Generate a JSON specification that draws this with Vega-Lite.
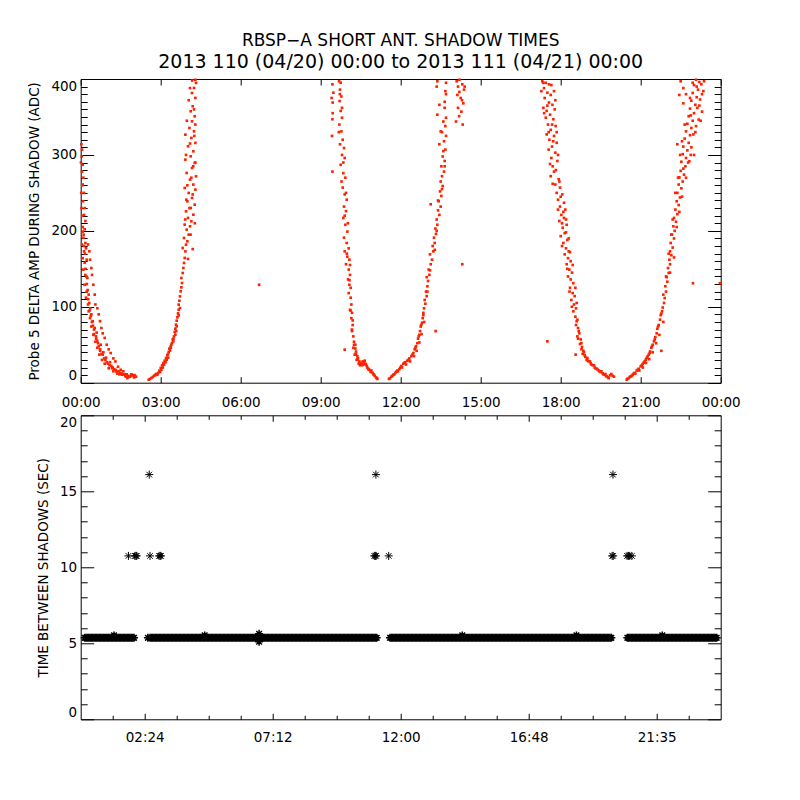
{
  "$schema": "https://vega.github.io/schema/vega-lite/v6.json",
  "background": "white",
  "padding": {"left": 26.7, "top": 31, "right": 10, "bottom": 10},
  "config": {
    "font": "DejaVu Sans",
    "view": {"stroke": "black", "strokeWidth": 1, "fill": null},
    "axis": {
      "domain": false,
      "grid": false,
      "labelFont": "DejaVu Sans",
      "labelFontSize": 13.5,
      "labelColor": "black",
      "labelOverlap": false,
      "tickColor": "black",
      "tickWidth": 1,
      "titleFont": "DejaVu Sans",
      "titleFontSize": 13.5,
      "titleFontWeight": "normal",
      "titleColor": "black"
    }
  },
  "datasets": {
    "amp": [
      {"h":0.025,"a":314},{"h":0.05,"a":307},{"h":0.04,"a":298},{"h":0.075,"a":287},{"h":0.05,"a":278},{"h":0.1,"a":270},{"h":0.075,"a":261},{"h":0.125,"a":250},{"h":0.09,"a":239},{"h":0.15,"a":230},
      {"h":0.125,"a":221},{"h":0.175,"a":213},{"h":0.15,"a":202},{"h":0.075,"a":199},{"h":0.1,"a":191},{"h":0.175,"a":184},{"h":0.05,"a":182},{"h":0.125,"a":173},{"h":0.2,"a":177},{"h":0.075,"a":164},
      {"h":0.15,"a":158},{"h":0.225,"a":162},{"h":0.1,"a":149},{"h":0.175,"a":142},{"h":0.25,"a":138},{"h":0.15,"a":129},{"h":0.225,"a":120},{"h":0.3,"a":116},{"h":0.2,"a":112},{"h":0.275,"a":103},
      {"h":0.36,"a":98},{"h":0.3,"a":94},{"h":0.4,"a":90},{"h":0.35,"a":85},{"h":0.45,"a":81},{"h":0.4,"a":74},{"h":0.5,"a":70},{"h":0.475,"a":63},{"h":0.575,"a":61},{"h":0.55,"a":54},
      {"h":0.65,"a":52},{"h":0.625,"a":46},{"h":0.725,"a":44},{"h":0.7,"a":37},{"h":0.825,"a":37},{"h":0.8,"a":30},{"h":0.925,"a":30},{"h":0.9,"a":25},{"h":1.025,"a":25},{"h":1.05,"a":19},
      {"h":1.175,"a":19},{"h":1.225,"a":15},{"h":1.325,"a":16},{"h":1.375,"a":12},{"h":1.475,"a":13},{"h":1.55,"a":10.5},{"h":1.675,"a":9},{"h":1.8,"a":7.5},{"h":1.9,"a":11},{"h":1.99,"a":9},
      {"h":2.075,"a":8},{"h":0.275,"a":182},{"h":0.325,"a":173},{"h":0.35,"a":162},{"h":0.4,"a":151},{"h":0.425,"a":142},{"h":0.475,"a":129},{"h":0.525,"a":116},{"h":0.55,"a":103},{"h":0.625,"a":98},
      {"h":0.675,"a":90},{"h":0.725,"a":81},{"h":0.775,"a":72},{"h":0.825,"a":65},{"h":0.9,"a":59},{"h":0.975,"a":50},{"h":1.05,"a":44},{"h":1.125,"a":39},{"h":1.225,"a":32},{"h":1.3,"a":28},
      {"h":1.4,"a":21},{"h":1.5,"a":17},{"h":1.6,"a":15},{"h":1.725,"a":11},{"h":1.6,"a":11},{"h":1.7,"a":8},{"h":1.75,"a":6},{"h":1.85,"a":8},{"h":1.95,"a":10},{"h":2.0,"a":7},
      {"h":1.45,"a":11},{"h":1.35,"a":14},{"h":1.25,"a":18},{"h":1.15,"a":22},{"h":1.1,"a":27},{"h":0.95,"a":33},{"h":0.85,"a":40},{"h":0.75,"a":50},{"h":0.6,"a":66},{"h":0.525,"a":72},
      {"h":0.02,"a":250},{"h":0.03,"a":230},{"h":0.06,"a":220},{"h":0.08,"a":205},{"h":0.11,"a":195},{"h":0.13,"a":180},{"h":0.16,"a":170},{"h":0.18,"a":150},{"h":0.21,"a":140},{"h":0.23,"a":130},
      {"h":0.26,"a":122},{"h":0.28,"a":110},{"h":0.32,"a":105},{"h":0.33,"a":95},{"h":0.38,"a":88},{"h":0.42,"a":80},{"h":0.46,"a":75},{"h":0.5,"a":64},{"h":0.58,"a":58},{"h":0.62,"a":55},
      {"h":0.68,"a":48},{"h":0.73,"a":42},{"h":0.78,"a":38},{"h":0.88,"a":32},{"h":0.98,"a":27},{"h":1.08,"a":23},{"h":1.2,"a":20},{"h":1.3,"a":17},{"h":1.42,"a":15},{"h":1.52,"a":12},
      {"h":1.65,"a":11},{"h":1.78,"a":9},{"h":1.88,"a":9},{"h":2.02,"a":10},{"h":0.06,"a":260},{"h":0.01,"a":290},
      {"h":2.55,"a":4},{"h":2.65,"a":6.1},{"h":2.75,"a":9.2},{"h":2.825,"a":11.4},{"h":2.9,"a":12.7},{"h":2.95,"a":15.8},{"h":3.0,"a":19.3},{"h":3.05,"a":22.8},{"h":3.1,"a":25.9},{"h":3.15,"a":29},
      {"h":3.2,"a":32.5},{"h":3.25,"a":36},{"h":3.3,"a":40.4},{"h":3.325,"a":44.8},{"h":3.375,"a":47.9},{"h":3.425,"a":52.3},{"h":3.45,"a":56.7},{"h":3.5,"a":61},{"h":3.525,"a":66.8},{"h":3.55,"a":71.1},
      {"h":3.575,"a":76.4},{"h":3.6,"a":81.7},{"h":3.625,"a":86.1},{"h":3.65,"a":91.3},{"h":3.675,"a":96.2},{"h":3.675,"a":102.8},{"h":3.7,"a":108},{"h":3.725,"a":113.7},{"h":3.75,"a":120.3},{"h":3.775,"a":125.6},
      {"h":3.8,"a":131.3},{"h":3.775,"a":137.9},{"h":3.825,"a":144.5},{"h":3.85,"a":151.1},{"h":3.875,"a":157.7},{"h":3.9,"a":164.3},{"h":3.925,"a":173},{"h":3.825,"a":177.4},{"h":3.95,"a":181.8},{"h":4.0,"a":186.2},
      {"h":3.875,"a":190.6},{"h":4.05,"a":195},{"h":3.975,"a":201.6},{"h":4.1,"a":206},{"h":3.9,"a":208.2},{"h":4.15,"a":212.6},{"h":4.025,"a":217},{"h":4.225,"a":221.3},{"h":3.95,"a":225.7},{"h":4.125,"a":230.1},
      {"h":4.275,"a":234.5},{"h":4.0,"a":238.9},{"h":4.175,"a":243.3},{"h":4.05,"a":249.9},{"h":4.3,"a":254.3},{"h":3.9,"a":256.5},{"h":4.225,"a":260.9},{"h":4.1,"a":267.5},{"h":4.325,"a":271.8},{"h":3.975,"a":276.2},
      {"h":4.175,"a":282.8},{"h":4.275,"a":289.4},{"h":3.925,"a":293.8},{"h":4.125,"a":298.2},{"h":4.225,"a":304.8},{"h":4.025,"a":311.4},{"h":4.3,"a":315.8},{"h":4.15,"a":322.4},{"h":3.925,"a":326.7},{"h":4.25,"a":331.1},
      {"h":4.075,"a":335.5},{"h":4.175,"a":344.3},{"h":4.275,"a":350.9},{"h":4.125,"a":357.5},{"h":4.2,"a":364.1},{"h":4.3,"a":375.1},{"h":4.175,"a":381.6},{"h":4.25,"a":388.2},{"h":4.325,"a":394.8},
      {"h":2.875,"a":10.5},{"h":3.025,"a":17.1},{"h":3.125,"a":23.7},{"h":3.225,"a":30.3},{"h":3.275,"a":37.8},{"h":3.35,"a":42.2},{"h":3.4,"a":50.1},{"h":3.475,"a":54.5},{"h":3.55,"a":63.2},{"h":3.6,"a":74.2},
      {"h":3.675,"a":88.7},{"h":3.725,"a":98.4},{"h":6.69,"a":129},
      {"h":4.0,"a":260},{"h":4.2,"a":248},{"h":4.3,"a":290},{"h":3.95,"a":300},{"h":4.1,"a":315},{"h":4.25,"a":360},{"h":4.05,"a":372},{"h":4.3,"a":340},{"h":3.98,"a":345},{"h":4.15,"a":270},
      {"h":4.22,"a":285},{"h":4.08,"a":230},{"h":4.28,"a":210},{"h":3.92,"a":215},{"h":4.12,"a":195},{"h":4.2,"a":176},{"h":4.02,"a":163},{"h":3.96,"a":241},{"h":4.26,"a":325},{"h":4.18,"a":398},
      {"h":4.3,"a":399},{"h":4.1,"a":388},{"h":2.6,"a":5},{"h":2.7,"a":7.5},{"h":2.8,"a":10},{"h":2.98,"a":14},{"h":3.08,"a":20},{"h":3.18,"a":27},{"h":3.28,"a":33},{"h":3.38,"a":46},
      {"h":3.48,"a":58},{"h":3.58,"a":68},
      {"h":9.44,"a":393},{"h":9.475,"a":382},{"h":9.41,"a":375},{"h":9.45,"a":369},{"h":9.69,"a":397},{"h":9.75,"a":395},{"h":9.725,"a":386},{"h":9.775,"a":377},{"h":9.71,"a":371},{"h":9.75,"a":358},
      {"h":9.8,"a":349},{"h":9.44,"a":347},{"h":9.425,"a":325},{"h":9.7,"a":340},{"h":9.775,"a":331},{"h":9.825,"a":320},{"h":9.725,"a":314},{"h":9.875,"a":309},{"h":9.8,"a":300},{"h":9.9,"a":296},
      {"h":9.75,"a":287},{"h":9.85,"a":276},{"h":9.44,"a":278},{"h":9.925,"a":270},{"h":9.825,"a":257},{"h":9.9,"a":248},{"h":9.975,"a":241},{"h":9.875,"a":232},{"h":9.95,"a":226},{"h":9.85,"a":217},
      {"h":9.925,"a":208},{"h":10.0,"a":199},{"h":9.875,"a":191},{"h":9.975,"a":184},{"h":10.05,"a":177},{"h":9.9,"a":173},{"h":10.0,"a":166},{"h":10.075,"a":162},{"h":9.95,"a":156},{"h":10.05,"a":149},
      {"h":10.1,"a":142},{"h":10.025,"a":136},{"h":10.075,"a":129},{"h":10.125,"a":125},{"h":10.05,"a":118},{"h":10.125,"a":112},{"h":10.15,"a":103},{"h":10.1,"a":96},{"h":10.175,"a":92},{"h":10.15,"a":85},
      {"h":10.2,"a":76},{"h":10.175,"a":68},{"h":10.225,"a":61},{"h":10.25,"a":54},{"h":10.3,"a":50},{"h":10.225,"a":46},{"h":10.325,"a":41},{"h":10.275,"a":37},{"h":10.375,"a":35},{"h":10.35,"a":30},
      {"h":10.45,"a":28},{"h":10.425,"a":25},{"h":10.5,"a":26},{"h":10.575,"a":28},{"h":10.65,"a":29},{"h":10.6,"a":24},{"h":10.7,"a":24},{"h":10.75,"a":20},{"h":10.825,"a":17},{"h":10.875,"a":15},
      {"h":10.95,"a":13},{"h":11.0,"a":10.5},{"h":11.075,"a":7},{"h":11.125,"a":5},{"h":9.9,"a":43.5},{"h":10.25,"a":50},{"h":10.3,"a":45},{"h":10.4,"a":32},{"h":10.475,"a":23},{"h":10.55,"a":23},
      {"h":10.625,"a":27},{"h":10.725,"a":22},{"h":10.8,"a":18},{"h":10.9,"a":16},{"h":11.025,"a":9},
      {"h":9.45,"a":355},{"h":9.72,"a":380},{"h":9.8,"a":362},{"h":9.68,"a":330},{"h":9.85,"a":290},{"h":9.78,"a":265},{"h":9.95,"a":250},{"h":9.9,"a":220},{"h":10.02,"a":210},{"h":9.98,"a":170},
      {"h":10.1,"a":155},{"h":10.08,"a":135},{"h":10.12,"a":95},{"h":10.2,"a":82},{"h":10.17,"a":70},{"h":10.32,"a":38},{"h":10.38,"a":31},{"h":10.52,"a":25},{"h":10.68,"a":25},{"h":10.78,"a":18},
      {"h":10.88,"a":14},{"h":10.98,"a":11},{"h":11.1,"a":6},
      {"h":11.56,"a":5},{"h":11.65,"a":8},{"h":11.725,"a":10.5},{"h":11.8,"a":13},{"h":11.875,"a":16},{"h":11.95,"a":18},{"h":12.025,"a":22},{"h":12.1,"a":25},{"h":12.175,"a":27},{"h":12.25,"a":29},
      {"h":12.325,"a":32},{"h":12.4,"a":35},{"h":12.475,"a":39},{"h":12.525,"a":44},{"h":12.575,"a":48},{"h":12.625,"a":52},{"h":12.65,"a":58},{"h":12.7,"a":63},{"h":12.725,"a":68},{"h":12.75,"a":74},
      {"h":12.8,"a":79},{"h":12.825,"a":85},{"h":12.85,"a":92},{"h":12.875,"a":98},{"h":12.925,"a":104},{"h":12.9,"a":109},{"h":12.975,"a":114},{"h":12.95,"a":120},{"h":13.0,"a":127},{"h":13.025,"a":134},
      {"h":12.975,"a":139},{"h":13.075,"a":142},{"h":13.05,"a":149},{"h":13.125,"a":156},{"h":13.175,"a":162},{"h":13.1,"a":169},{"h":13.225,"a":173},{"h":13.2,"a":180},{"h":13.275,"a":184},{"h":13.25,"a":191},
      {"h":13.325,"a":196},{"h":13.3,"a":203},{"h":13.375,"a":208},{"h":13.35,"a":215},{"h":13.45,"a":221},{"h":13.4,"a":227},{"h":13.5,"a":232},{"h":13.425,"a":239},{"h":13.525,"a":246},{"h":13.475,"a":252},
      {"h":13.575,"a":259},{"h":13.5,"a":265},{"h":13.55,"a":272},{"h":13.625,"a":278},{"h":13.525,"a":285},{"h":13.65,"a":292},{"h":13.575,"a":298},{"h":13.675,"a":307},{"h":13.45,"a":314},{"h":13.625,"a":318},
      {"h":13.7,"a":325},{"h":13.5,"a":331},{"h":13.675,"a":338},{"h":13.6,"a":344},{"h":13.7,"a":349},{"h":13.375,"a":353},{"h":13.65,"a":362},{"h":13.45,"a":366},{"h":13.675,"a":384},{"h":13.35,"a":390},
      {"h":13.7,"a":395},{"h":13.375,"a":397},{"h":14.1,"a":397},{"h":14.2,"a":399},{"h":14.31,"a":393},{"h":14.375,"a":386},{"h":14.125,"a":379},{"h":14.25,"a":375},{"h":14.35,"a":368},{"h":14.15,"a":362},
      {"h":14.275,"a":357},{"h":14.19,"a":351},{"h":14.325,"a":340},{"h":14.075,"a":344},{"h":14.4,"a":390},{"h":14.31,"a":156},{"h":13.125,"a":235},{"h":13.31,"a":68},
      {"h":11.69,"a":9},{"h":11.84,"a":14.5},{"h":11.99,"a":20},{"h":12.14,"a":26},{"h":12.29,"a":30},{"h":12.44,"a":37},{"h":12.55,"a":46},{"h":12.675,"a":61},{"h":12.775,"a":76},{"h":12.85,"a":89},
      {"h":13.55,"a":330},{"h":13.6,"a":305},{"h":13.65,"a":285},{"h":13.4,"a":240},{"h":13.55,"a":255},{"h":13.35,"a":200},{"h":13.28,"a":175},{"h":13.65,"a":370},{"h":13.7,"a":380},{"h":13.1,"a":148},
      {"h":13.0,"a":120},{"h":14.2,"a":383},{"h":14.3,"a":372},{"h":14.15,"a":390},{"h":11.6,"a":6},{"h":11.76,"a":11},{"h":11.9,"a":15},{"h":12.05,"a":20},{"h":12.2,"a":24},{"h":12.35,"a":28},
      {"h":12.5,"a":35},{"h":12.6,"a":42},{"h":12.7,"a":53},{"h":12.78,"a":64},{"h":12.88,"a":80},
      {"h":17.31,"a":397},{"h":17.44,"a":395},{"h":17.56,"a":393},{"h":17.375,"a":388},{"h":17.275,"a":384},{"h":17.5,"a":382},{"h":17.625,"a":379},{"h":17.4,"a":375},{"h":17.75,"a":384},{"h":17.56,"a":369},
      {"h":17.69,"a":366},{"h":17.35,"a":362},{"h":17.475,"a":358},{"h":17.775,"a":360},{"h":17.6,"a":353},{"h":17.44,"a":349},{"h":17.725,"a":347},{"h":17.525,"a":340},{"h":17.81,"a":338},{"h":17.625,"a":333},
      {"h":17.475,"a":327},{"h":17.75,"a":325},{"h":17.575,"a":320},{"h":17.85,"a":316},{"h":17.675,"a":311},{"h":17.55,"a":307},{"h":17.8,"a":303},{"h":17.65,"a":296},{"h":17.875,"a":292},{"h":17.7,"a":285},
      {"h":17.75,"a":278},{"h":17.625,"a":272},{"h":17.925,"a":268},{"h":17.8,"a":261},{"h":17.975,"a":257},{"h":17.85,"a":250},{"h":18.06,"a":248},{"h":17.9,"a":241},{"h":18.125,"a":237},{"h":17.975,"a":232},
      {"h":18.175,"a":228},{"h":18.025,"a":221},{"h":18.125,"a":217},{"h":17.95,"a":213},{"h":18.225,"a":208},{"h":18.075,"a":204},{"h":18.15,"a":197},{"h":18.0,"a":193},{"h":18.25,"a":188},{"h":18.1,"a":184},
      {"h":18.2,"a":177},{"h":18.3,"a":173},{"h":18.15,"a":169},{"h":18.275,"a":164},{"h":18.375,"a":160},{"h":18.225,"a":156},{"h":18.325,"a":149},{"h":18.425,"a":145},{"h":18.275,"a":140},{"h":18.375,"a":136},
      {"h":18.475,"a":131},{"h":18.35,"a":125},{"h":18.45,"a":118},{"h":18.525,"a":114},{"h":18.4,"a":109},{"h":18.5,"a":103},{"h":18.575,"a":98},{"h":18.475,"a":94},{"h":18.55,"a":87},{"h":18.625,"a":83},
      {"h":18.575,"a":76},{"h":18.65,"a":72},{"h":18.7,"a":65},{"h":18.625,"a":61},{"h":18.75,"a":57},{"h":18.725,"a":51},{"h":18.8,"a":47},{"h":18.85,"a":42},{"h":18.825,"a":38},{"h":18.925,"a":34},
      {"h":18.975,"a":30},{"h":19.05,"a":28},{"h":19.125,"a":25.5},{"h":19.2,"a":23},{"h":19.275,"a":20},{"h":19.35,"a":18.4},{"h":19.425,"a":16},{"h":19.5,"a":14},{"h":19.575,"a":12.3},{"h":19.65,"a":10.5},
      {"h":19.725,"a":8.3},{"h":19.775,"a":7},{"h":19.85,"a":9.7},{"h":19.9,"a":11.4},{"h":19.95,"a":9},{"h":20.0,"a":8},{"h":17.5,"a":54.5},{"h":18.56,"a":37},{"h":18.775,"a":52},{"h":18.875,"a":40},
      {"h":19.0,"a":32.5},{"h":19.1,"a":28},{"h":19.25,"a":23},{"h":19.375,"a":17.6},{"h":19.525,"a":15},{"h":19.675,"a":11.4},{"h":18.675,"a":68},{"h":18.6,"a":81},
      {"h":17.35,"a":395},{"h":17.65,"a":392},{"h":17.8,"a":372},{"h":17.5,"a":365},{"h":17.38,"a":355},{"h":17.68,"a":340},{"h":17.85,"a":330},{"h":17.55,"a":330},{"h":17.72,"a":318},{"h":17.9,"a":300},
      {"h":17.6,"a":288},{"h":17.82,"a":280},{"h":17.95,"a":265},{"h":17.7,"a":262},{"h":18.0,"a":245},{"h":17.9,"a":228},{"h":18.1,"a":225},{"h":18.2,"a":215},{"h":18.05,"a":210},{"h":18.3,"a":190},
      {"h":18.2,"a":198},{"h":18.05,"a":180},{"h":18.35,"a":172},{"h":18.25,"a":150},{"h":18.45,"a":155},{"h":18.33,"a":120},{"h":18.55,"a":125},{"h":18.42,"a":100},{"h":18.6,"a":105},{"h":18.65,"a":58},
      {"h":18.78,"a":44},{"h":18.9,"a":36},{"h":19.02,"a":29},{"h":19.15,"a":24},{"h":19.3,"a":19},{"h":19.45,"a":15},{"h":19.6,"a":11},{"h":19.7,"a":9},{"h":19.8,"a":6},
      {"h":20.475,"a":4},{"h":20.55,"a":6},{"h":20.625,"a":8.3},{"h":20.7,"a":10.5},{"h":20.775,"a":13},{"h":20.85,"a":16},{"h":20.925,"a":18.4},{"h":21.0,"a":21.5},{"h":21.075,"a":24.6},{"h":21.15,"a":28},
      {"h":21.225,"a":32.5},{"h":21.3,"a":37},{"h":21.35,"a":41},{"h":21.4,"a":46},{"h":21.45,"a":50},{"h":21.5,"a":54.5},{"h":21.55,"a":60},{"h":21.6,"a":65},{"h":21.625,"a":71},{"h":21.675,"a":76},
      {"h":21.725,"a":83},{"h":21.75,"a":89},{"h":21.8,"a":94},{"h":21.825,"a":99},{"h":21.875,"a":105},{"h":21.9,"a":111.5},{"h":21.85,"a":116},{"h":21.95,"a":120},{"h":21.925,"a":127},{"h":22.0,"a":133},
      {"h":21.975,"a":139},{"h":22.05,"a":144.5},{"h":22.025,"a":151},{"h":22.1,"a":156},{"h":22.075,"a":162},{"h":22.15,"a":168},{"h":22.1,"a":173},{"h":22.2,"a":178},{"h":22.125,"a":184},{"h":22.25,"a":190},
      {"h":22.175,"a":195},{"h":22.275,"a":200},{"h":22.225,"a":206},{"h":22.325,"a":212},{"h":22.25,"a":217},{"h":22.375,"a":222},{"h":22.3,"a":228},{"h":22.425,"a":234},{"h":22.35,"a":239},{"h":22.475,"a":244},
      {"h":22.375,"a":250},{"h":22.525,"a":256},{"h":22.425,"a":261},{"h":22.575,"a":265},{"h":22.45,"a":270.5},{"h":22.625,"a":274},{"h":22.5,"a":279},{"h":22.675,"a":285},{"h":22.525,"a":291},{"h":22.7,"a":296},
      {"h":22.575,"a":301},{"h":22.75,"a":306},{"h":22.6,"a":311},{"h":22.8,"a":316},{"h":22.65,"a":321.5},{"h":22.85,"a":326},{"h":22.7,"a":331},{"h":22.9,"a":335.5},{"h":22.75,"a":341},{"h":22.95,"a":345},
      {"h":22.8,"a":351},{"h":23.0,"a":355},{"h":22.85,"a":361},{"h":23.05,"a":366},{"h":22.9,"a":371.5},{"h":23.1,"a":376},{"h":22.95,"a":381.6},{"h":23.15,"a":386},{"h":23.0,"a":392},{"h":23.2,"a":396},
      {"h":23.075,"a":399},{"h":22.5,"a":397},{"h":22.6,"a":388},{"h":22.45,"a":379},{"h":23.275,"a":393},{"h":23.35,"a":384},{"h":23.225,"a":373},{"h":23.125,"a":362},{"h":23.3,"a":357},{"h":23.175,"a":346.5},
      {"h":23.075,"a":338},{"h":22.975,"a":327},{"h":22.825,"a":291.6},{"h":22.875,"a":300},{"h":22.7,"a":270},{"h":23.375,"a":397},{"h":22.375,"a":314},{"h":22.96,"a":131},{"h":21.775,"a":42},{"h":23.97,"a":131},
      {"h":20.59,"a":7.5},{"h":20.74,"a":12},{"h":20.89,"a":17},{"h":21.04,"a":22.8},{"h":21.11,"a":26.4},{"h":21.19,"a":30.3},{"h":21.26,"a":34.7},{"h":21.34,"a":39},{"h":21.425,"a":48},{"h":21.525,"a":57},
      {"h":21.65,"a":74},{"h":21.775,"a":91},
      {"h":22.3,"a":250},{"h":22.55,"a":245},{"h":22.6,"a":282},{"h":22.4,"a":270},{"h":22.78,"a":290},{"h":22.55,"a":318},{"h":22.9,"a":310},{"h":22.65,"a":340},{"h":22.88,"a":352},{"h":23.05,"a":330},
      {"h":23.2,"a":365},{"h":22.7,"a":380},{"h":22.95,"a":395},{"h":23.1,"a":390},{"h":23.3,"a":380},{"h":22.6,"a":368},{"h":22.85,"a":375},{"h":23.25,"a":345},{"h":22.48,"a":300},{"h":23.0,"a":300},
      {"h":22.2,"a":215},{"h":22.45,"a":225},{"h":22.15,"a":195},{"h":22.35,"a":205},{"h":22.05,"a":170},{"h":22.25,"a":165},{"h":21.95,"a":140},{"h":22.1,"a":145},{"h":20.5,"a":5},{"h":20.66,"a":9},
      {"h":20.8,"a":12},{"h":20.95,"a":16},{"h":21.08,"a":20},{"h":21.2,"a":26},{"h":21.32,"a":31},{"h":21.45,"a":40},{"h":21.58,"a":52},{"h":21.7,"a":63},{"h":21.85,"a":80}
    ],
    "gap": [
      {"t":0.15,"s":5.36},{"t":0.2,"s":5.36},{"t":0.25,"s":5.36},{"t":0.3,"s":5.36},{"t":0.35,"s":5.36},{"t":0.4,"s":5.36},{"t":0.45,"s":5.36},
      {"t":0.5,"s":5.36},{"t":0.55,"s":5.36},{"t":0.6,"s":5.36},{"t":0.65,"s":5.36},{"t":0.7,"s":5.36},{"t":0.75,"s":5.36},{"t":0.8,"s":5.36},{"t":0.85,"s":5.36},{"t":0.9,"s":5.36},{"t":0.95,"s":5.36},
      {"t":1,"s":5.36},{"t":1.05,"s":5.36},{"t":1.1,"s":5.36},{"t":1.15,"s":5.36},{"t":1.2,"s":5.36},{"t":1.25,"s":5.36},{"t":1.3,"s":5.36},{"t":1.35,"s":5.36},{"t":1.4,"s":5.36},{"t":1.45,"s":5.36},
      {"t":1.5,"s":5.36},{"t":1.55,"s":5.36},{"t":1.6,"s":5.36},{"t":1.65,"s":5.36},{"t":1.7,"s":5.36},{"t":1.75,"s":5.36},{"t":1.8,"s":5.36},{"t":1.85,"s":5.36},{"t":1.9,"s":5.36},{"t":1.95,"s":5.36},
      {"t":2,"s":5.36},
      {"t":2.6,"s":5.36},{"t":2.65,"s":5.36},{"t":2.7,"s":5.36},{"t":2.75,"s":5.36},{"t":2.8,"s":5.36},{"t":2.85,"s":5.36},{"t":2.9,"s":5.36},{"t":2.95,"s":5.36},{"t":3,"s":5.36},{"t":3.05,"s":5.36},
      {"t":3.1,"s":5.36},{"t":3.15,"s":5.36},{"t":3.2,"s":5.36},{"t":3.25,"s":5.36},{"t":3.3,"s":5.36},{"t":3.35,"s":5.36},{"t":3.4,"s":5.36},{"t":3.45,"s":5.36},{"t":3.5,"s":5.36},{"t":3.55,"s":5.36},
      {"t":3.6,"s":5.36},{"t":3.65,"s":5.36},{"t":3.7,"s":5.36},{"t":3.75,"s":5.36},{"t":3.8,"s":5.36},{"t":3.85,"s":5.36},{"t":3.9,"s":5.36},{"t":3.95,"s":5.36},{"t":4,"s":5.36},{"t":4.05,"s":5.36},
      {"t":4.1,"s":5.36},{"t":4.15,"s":5.36},{"t":4.2,"s":5.36},{"t":4.25,"s":5.36},{"t":4.3,"s":5.36},{"t":4.35,"s":5.36},{"t":4.4,"s":5.36},{"t":4.45,"s":5.36},{"t":4.5,"s":5.36},{"t":4.55,"s":5.36},
      {"t":4.6,"s":5.36},{"t":4.65,"s":5.36},{"t":4.7,"s":5.36},{"t":4.75,"s":5.36},{"t":4.8,"s":5.36},{"t":4.85,"s":5.36},{"t":4.9,"s":5.36},{"t":4.95,"s":5.36},{"t":5,"s":5.36},{"t":5.05,"s":5.36},
      {"t":5.1,"s":5.36},{"t":5.15,"s":5.36},{"t":5.2,"s":5.36},{"t":5.25,"s":5.36},{"t":5.3,"s":5.36},{"t":5.35,"s":5.36},{"t":5.4,"s":5.36},{"t":5.45,"s":5.36},{"t":5.5,"s":5.36},{"t":5.55,"s":5.36},
      {"t":5.6,"s":5.36},{"t":5.65,"s":5.36},{"t":5.7,"s":5.36},{"t":5.75,"s":5.36},{"t":5.8,"s":5.36},{"t":5.85,"s":5.36},{"t":5.9,"s":5.36},{"t":5.95,"s":5.36},{"t":6,"s":5.36},{"t":6.05,"s":5.36},
      {"t":6.1,"s":5.36},{"t":6.15,"s":5.36},{"t":6.2,"s":5.36},{"t":6.25,"s":5.36},{"t":6.3,"s":5.36},{"t":6.35,"s":5.36},{"t":6.4,"s":5.36},{"t":6.45,"s":5.36},{"t":6.5,"s":5.36},{"t":6.55,"s":5.36},
      {"t":6.6,"s":5.36},{"t":6.65,"s":5.36},{"t":6.7,"s":5.36},{"t":6.75,"s":5.36},{"t":6.8,"s":5.36},{"t":6.85,"s":5.36},{"t":6.9,"s":5.36},{"t":6.95,"s":5.36},{"t":7,"s":5.36},{"t":7.05,"s":5.36},
      {"t":7.1,"s":5.36},{"t":7.15,"s":5.36},{"t":7.2,"s":5.36},{"t":7.25,"s":5.36},{"t":7.3,"s":5.36},{"t":7.35,"s":5.36},{"t":7.4,"s":5.36},{"t":7.45,"s":5.36},{"t":7.5,"s":5.36},{"t":7.55,"s":5.36},
      {"t":7.6,"s":5.36},{"t":7.65,"s":5.36},{"t":7.7,"s":5.36},{"t":7.75,"s":5.36},{"t":7.8,"s":5.36},{"t":7.85,"s":5.36},{"t":7.9,"s":5.36},{"t":7.95,"s":5.36},{"t":8,"s":5.36},{"t":8.05,"s":5.36},
      {"t":8.1,"s":5.36},{"t":8.15,"s":5.36},{"t":8.2,"s":5.36},{"t":8.25,"s":5.36},{"t":8.3,"s":5.36},{"t":8.35,"s":5.36},{"t":8.4,"s":5.36},{"t":8.45,"s":5.36},{"t":8.5,"s":5.36},{"t":8.55,"s":5.36},
      {"t":8.6,"s":5.36},{"t":8.65,"s":5.36},{"t":8.7,"s":5.36},{"t":8.75,"s":5.36},{"t":8.8,"s":5.36},{"t":8.85,"s":5.36},{"t":8.9,"s":5.36},{"t":8.95,"s":5.36},{"t":9,"s":5.36},{"t":9.05,"s":5.36},
      {"t":9.1,"s":5.36},{"t":9.15,"s":5.36},{"t":9.2,"s":5.36},{"t":9.25,"s":5.36},{"t":9.3,"s":5.36},{"t":9.35,"s":5.36},{"t":9.4,"s":5.36},{"t":9.45,"s":5.36},{"t":9.5,"s":5.36},{"t":9.55,"s":5.36},
      {"t":9.6,"s":5.36},{"t":9.65,"s":5.36},{"t":9.7,"s":5.36},{"t":9.75,"s":5.36},{"t":9.8,"s":5.36},{"t":9.85,"s":5.36},{"t":9.9,"s":5.36},{"t":9.95,"s":5.36},{"t":10,"s":5.36},{"t":10.05,"s":5.36},
      {"t":10.1,"s":5.36},{"t":10.15,"s":5.36},{"t":10.2,"s":5.36},{"t":10.25,"s":5.36},{"t":10.3,"s":5.36},{"t":10.35,"s":5.36},{"t":10.4,"s":5.36},{"t":10.45,"s":5.36},{"t":10.5,"s":5.36},{"t":10.55,"s":5.36},
      {"t":10.6,"s":5.36},{"t":10.65,"s":5.36},{"t":10.7,"s":5.36},{"t":10.75,"s":5.36},{"t":10.8,"s":5.36},{"t":10.85,"s":5.36},{"t":10.9,"s":5.36},{"t":10.95,"s":5.36},{"t":11,"s":5.36},{"t":11.05,"s":5.36},
      {"t":11.1,"s":5.36},
      {"t":11.6,"s":5.36},{"t":11.65,"s":5.36},{"t":11.7,"s":5.36},{"t":11.75,"s":5.36},{"t":11.8,"s":5.36},{"t":11.85,"s":5.36},{"t":11.9,"s":5.36},{"t":11.95,"s":5.36},{"t":12,"s":5.36},{"t":12.05,"s":5.36},
      {"t":12.1,"s":5.36},{"t":12.15,"s":5.36},{"t":12.2,"s":5.36},{"t":12.25,"s":5.36},{"t":12.3,"s":5.36},{"t":12.35,"s":5.36},{"t":12.4,"s":5.36},{"t":12.45,"s":5.36},{"t":12.5,"s":5.36},{"t":12.55,"s":5.36},
      {"t":12.6,"s":5.36},{"t":12.65,"s":5.36},{"t":12.7,"s":5.36},{"t":12.75,"s":5.36},{"t":12.8,"s":5.36},{"t":12.85,"s":5.36},{"t":12.9,"s":5.36},{"t":12.95,"s":5.36},{"t":13,"s":5.36},{"t":13.05,"s":5.36},
      {"t":13.1,"s":5.36},{"t":13.15,"s":5.36},{"t":13.2,"s":5.36},{"t":13.25,"s":5.36},{"t":13.3,"s":5.36},{"t":13.35,"s":5.36},{"t":13.4,"s":5.36},{"t":13.45,"s":5.36},{"t":13.5,"s":5.36},{"t":13.55,"s":5.36},
      {"t":13.6,"s":5.36},{"t":13.65,"s":5.36},{"t":13.7,"s":5.36},{"t":13.75,"s":5.36},{"t":13.8,"s":5.36},{"t":13.85,"s":5.36},{"t":13.9,"s":5.36},{"t":13.95,"s":5.36},{"t":14,"s":5.36},{"t":14.05,"s":5.36},
      {"t":14.1,"s":5.36},{"t":14.15,"s":5.36},{"t":14.2,"s":5.36},{"t":14.25,"s":5.36},{"t":14.3,"s":5.36},{"t":14.35,"s":5.36},{"t":14.4,"s":5.36},{"t":14.45,"s":5.36},{"t":14.5,"s":5.36},{"t":14.55,"s":5.36},
      {"t":14.6,"s":5.36},{"t":14.65,"s":5.36},{"t":14.7,"s":5.36},{"t":14.75,"s":5.36},{"t":14.8,"s":5.36},{"t":14.85,"s":5.36},{"t":14.9,"s":5.36},{"t":14.95,"s":5.36},{"t":15,"s":5.36},{"t":15.05,"s":5.36},
      {"t":15.1,"s":5.36},{"t":15.15,"s":5.36},{"t":15.2,"s":5.36},{"t":15.25,"s":5.36},{"t":15.3,"s":5.36},{"t":15.35,"s":5.36},{"t":15.4,"s":5.36},{"t":15.45,"s":5.36},{"t":15.5,"s":5.36},{"t":15.55,"s":5.36},
      {"t":15.6,"s":5.36},{"t":15.65,"s":5.36},{"t":15.7,"s":5.36},{"t":15.75,"s":5.36},{"t":15.8,"s":5.36},{"t":15.85,"s":5.36},{"t":15.9,"s":5.36},{"t":15.95,"s":5.36},{"t":16,"s":5.36},{"t":16.05,"s":5.36},
      {"t":16.1,"s":5.36},{"t":16.15,"s":5.36},{"t":16.2,"s":5.36},{"t":16.25,"s":5.36},{"t":16.3,"s":5.36},{"t":16.35,"s":5.36},{"t":16.4,"s":5.36},{"t":16.45,"s":5.36},{"t":16.5,"s":5.36},{"t":16.55,"s":5.36},
      {"t":16.6,"s":5.36},{"t":16.65,"s":5.36},{"t":16.7,"s":5.36},{"t":16.75,"s":5.36},{"t":16.8,"s":5.36},{"t":16.85,"s":5.36},{"t":16.9,"s":5.36},{"t":16.95,"s":5.36},{"t":17,"s":5.36},{"t":17.05,"s":5.36},
      {"t":17.1,"s":5.36},{"t":17.15,"s":5.36},{"t":17.2,"s":5.36},{"t":17.25,"s":5.36},{"t":17.3,"s":5.36},{"t":17.35,"s":5.36},{"t":17.4,"s":5.36},{"t":17.45,"s":5.36},{"t":17.5,"s":5.36},{"t":17.55,"s":5.36},
      {"t":17.6,"s":5.36},{"t":17.65,"s":5.36},{"t":17.7,"s":5.36},{"t":17.75,"s":5.36},{"t":17.8,"s":5.36},{"t":17.85,"s":5.36},{"t":17.9,"s":5.36},{"t":17.95,"s":5.36},{"t":18,"s":5.36},{"t":18.05,"s":5.36},
      {"t":18.1,"s":5.36},{"t":18.15,"s":5.36},{"t":18.2,"s":5.36},{"t":18.25,"s":5.36},{"t":18.3,"s":5.36},{"t":18.35,"s":5.36},{"t":18.4,"s":5.36},{"t":18.45,"s":5.36},{"t":18.5,"s":5.36},{"t":18.55,"s":5.36},
      {"t":18.6,"s":5.36},{"t":18.65,"s":5.36},{"t":18.7,"s":5.36},{"t":18.75,"s":5.36},{"t":18.8,"s":5.36},{"t":18.85,"s":5.36},{"t":18.9,"s":5.36},{"t":18.95,"s":5.36},{"t":19,"s":5.36},{"t":19.05,"s":5.36},
      {"t":19.1,"s":5.36},{"t":19.15,"s":5.36},{"t":19.2,"s":5.36},{"t":19.25,"s":5.36},{"t":19.3,"s":5.36},{"t":19.35,"s":5.36},{"t":19.4,"s":5.36},{"t":19.45,"s":5.36},{"t":19.5,"s":5.36},{"t":19.55,"s":5.36},
      {"t":19.6,"s":5.36},{"t":19.65,"s":5.36},{"t":19.7,"s":5.36},{"t":19.75,"s":5.36},{"t":19.8,"s":5.36},{"t":19.85,"s":5.36},{"t":19.9,"s":5.36},
      {"t":20.5,"s":5.36},{"t":20.55,"s":5.36},{"t":20.6,"s":5.36},{"t":20.65,"s":5.36},{"t":20.7,"s":5.36},{"t":20.75,"s":5.36},{"t":20.8,"s":5.36},{"t":20.85,"s":5.36},{"t":20.9,"s":5.36},{"t":20.95,"s":5.36},
      {"t":21,"s":5.36},{"t":21.05,"s":5.36},{"t":21.1,"s":5.36},{"t":21.15,"s":5.36},{"t":21.2,"s":5.36},{"t":21.25,"s":5.36},{"t":21.3,"s":5.36},{"t":21.35,"s":5.36},{"t":21.4,"s":5.36},{"t":21.45,"s":5.36},
      {"t":21.5,"s":5.36},{"t":21.55,"s":5.36},{"t":21.6,"s":5.36},{"t":21.65,"s":5.36},{"t":21.7,"s":5.36},{"t":21.75,"s":5.36},{"t":21.8,"s":5.36},{"t":21.85,"s":5.36},{"t":21.9,"s":5.36},{"t":21.95,"s":5.36},
      {"t":22,"s":5.36},{"t":22.05,"s":5.36},{"t":22.1,"s":5.36},{"t":22.15,"s":5.36},{"t":22.2,"s":5.36},{"t":22.25,"s":5.36},{"t":22.3,"s":5.36},{"t":22.35,"s":5.36},{"t":22.4,"s":5.36},{"t":22.45,"s":5.36},
      {"t":22.5,"s":5.36},{"t":22.55,"s":5.36},{"t":22.6,"s":5.36},{"t":22.65,"s":5.36},{"t":22.7,"s":5.36},{"t":22.75,"s":5.36},{"t":22.8,"s":5.36},{"t":22.85,"s":5.36},{"t":22.9,"s":5.36},{"t":22.95,"s":5.36},
      {"t":23,"s":5.36},{"t":23.05,"s":5.36},{"t":23.1,"s":5.36},{"t":23.15,"s":5.36},{"t":23.2,"s":5.36},{"t":23.25,"s":5.36},{"t":23.3,"s":5.36},{"t":23.35,"s":5.36},{"t":23.4,"s":5.36},{"t":23.45,"s":5.36},
      {"t":23.5,"s":5.36},{"t":23.55,"s":5.36},{"t":23.6,"s":5.36},{"t":23.65,"s":5.36},{"t":23.7,"s":5.36},{"t":23.75,"s":5.36},{"t":23.8,"s":5.36},{"t":23.85,"s":5.36},
      {"t":1.25,"s":5.52},{"t":4.65,"s":5.52},{"t":6.69,"s":5.62},{"t":6.69,"s":5.1},{"t":14.31,"s":5.52},{"t":18.59,"s":5.52},{"t":21.81,"s":5.52},{"t":2.52,"s":5.36},
      {"t":2.57,"s":16.1},{"t":11.07,"s":16.1},{"t":19.96,"s":16.1},
      {"t":1.79,"s":10.75},{"t":2.03,"s":10.75},{"t":2.07,"s":10.75},{"t":2.1,"s":10.75},{"t":2.6,"s":10.75},{"t":2.94,"s":10.75},{"t":2.98,"s":10.75},{"t":3.01,"s":10.75},
      {"t":11.01,"s":10.75},{"t":11.05,"s":10.75},{"t":11.08,"s":10.75},{"t":11.55,"s":10.75},
      {"t":19.93,"s":10.75},{"t":19.97,"s":10.75},{"t":20.49,"s":10.75},{"t":20.54,"s":10.75},{"t":20.59,"s":10.75},{"t":20.67,"s":10.75}
    ]
  },
  "spacing": 32.3,
  "bounds": "flush",
  "vconcat": [
    {
      "width": 640,
      "height": 303.7,
      "title": {
        "text": "RBSP−A SHORT ANT. SHADOW TIMES",
        "subtitle": "2013 110 (04/20) 00:00 to 2013 111 (04/21) 00:00",
        "font": "DejaVu Sans",
        "subtitleFont": "DejaVu Sans",
        "fontSize": 17,
        "subtitleFontSize": 19,
        "fontWeight": "normal",
        "color": "black",
        "subtitleColor": "black",
        "anchor": "middle",
        "frame": "group",
        "offset": -4,
        "subtitlePadding": 3
      },
      "data": {"name": "amp"},
      "layer": [
        {
          "mark": {"type": "square", "size": 7, "color": "#ff2200", "opacity": 1},
          "encoding": {
            "x": {
              "field": "h",
              "type": "quantitative",
              "scale": {"domain": [0, 24], "nice": false, "zero": false},
              "axis": {
                "orient": "bottom",
                "title": null,
                "values": [0, 3, 6, 9, 12, 15, 18, 21, 24],
                "tickSize": -6,
                "labelPadding": 19,
                "labelFlush": false,
                "labelExpr": "datum.value == 24 ? '00:00' : (datum.value < 10 ? '0' : '') + datum.value + ':00'"
              }
            },
            "y": {
              "field": "a",
              "type": "quantitative",
              "scale": {"domain": [0, 400], "nice": false},
              "axis": {
                "orient": "left",
                "title": "Probe 5 DELTA AMP DURING SHADOW (ADC)",
                "titlePadding": 9,
                "values": [0, 100, 200, 300, 400],
                "tickSize": -13,
                "labelPadding": 17,
                "labelFlush": true
              }
            }
          }
        },
        {
          "transform": [{"filter": "datum.h < 0"}],
          "mark": {"type": "square", "opacity": 0},
          "encoding": {
            "x": {"field": "h", "type": "quantitative",
              "axis": {"orient": "top", "title": null, "labelExpr": "''", "values": [0, 3, 6, 9, 12, 15, 18, 21, 24], "tickSize": -6}},
            "y": {"field": "a", "type": "quantitative",
              "axis": {"orient": "right", "title": null, "labelExpr": "''", "values": [0, 100, 200, 300, 400], "tickSize": -13}}
          }
        },
        {
          "transform": [{"filter": "datum.h < 0"}],
          "mark": {"type": "square", "opacity": 0},
          "encoding": {
            "x": {"field": "h", "type": "quantitative", "axis": null},
            "y": {"field": "a", "type": "quantitative",
              "axis": {"orient": "left", "title": null, "labelExpr": "''", "tickSize": -6.5,
                "values": [10,20,30,40,50,60,70,80,90,110,120,130,140,150,160,170,180,190,210,220,230,240,250,260,270,280,290,310,320,330,340,350,360,370,380,390]}}
          }
        },
        {
          "transform": [{"filter": "datum.h < 0"}],
          "mark": {"type": "square", "opacity": 0},
          "encoding": {
            "x": {"field": "h", "type": "quantitative", "axis": null},
            "y": {"field": "a", "type": "quantitative",
              "axis": {"orient": "right", "title": null, "labelExpr": "''", "tickSize": -6.5,
                "values": [10,20,30,40,50,60,70,80,90,110,120,130,140,150,160,170,180,190,210,220,230,240,250,260,270,280,290,310,320,330,340,350,360,370,380,390]}}
          }
        }
      ],
      "resolve": {"axis": {"x": "independent", "y": "independent"}}
    },
    {
      "width": 640,
      "height": 304,
      "data": {"name": "gap"},
      "layer": [
        {
          "transform": [{"filter": "datum.s < 6"}],
          "mark": {
            "type": "point",
            "shape": "M-1,0L1,0M0,-1L0,1M-0.7,-0.7L0.7,0.7M-0.7,0.7L0.7,-0.7",
            "size": 64,
            "filled": false,
            "color": "black",
            "strokeWidth": 1.5,
            "opacity": 1
          },
          "encoding": {
            "x": {
              "field": "t",
              "type": "quantitative",
              "scale": {"domain": [0, 24], "nice": false, "zero": false},
              "axis": {
                "orient": "bottom",
                "title": null,
                "values": [2.4, 7.2, 12, 16.8, 21.6],
                "tickSize": -6,
                "labelPadding": 17,
                "labelFlush": false,
                "labelExpr": "datum.value == 2.4 ? '02:24' : datum.value == 7.2 ? '07:12' : datum.value == 12 ? '12:00' : datum.value == 16.8 ? '16:48' : '21:35'"
              }
            },
            "y": {
              "field": "s",
              "type": "quantitative",
              "scale": {"domain": [0, 20], "nice": false},
              "axis": {
                "orient": "left",
                "title": "TIME BETWEEN SHADOWS (SEC)",
                "titlePadding": 9,
                "values": [0, 5, 10, 15, 20],
                "tickSize": -13,
                "labelPadding": 17,
                "labelFlush": true
              }
            }
          }
        },
        {
          "transform": [{"filter": "datum.s >= 6"}],
          "mark": {
            "type": "point",
            "shape": "M-1,0L1,0M0,-1L0,1M-0.7,-0.7L0.7,0.7M-0.7,0.7L0.7,-0.7",
            "size": 64,
            "filled": false,
            "color": "black",
            "strokeWidth": 1,
            "opacity": 1
          },
          "encoding": {
            "x": {"field": "t", "type": "quantitative",
              "axis": {"orient": "top", "title": null, "labelExpr": "''", "values": [2.4, 7.2, 12, 16.8, 21.6], "tickSize": -6}},
            "y": {"field": "s", "type": "quantitative",
              "axis": {"orient": "right", "title": null, "labelExpr": "''", "values": [0, 5, 10, 15, 20], "tickSize": -13}}
          }
        },
        {
          "transform": [{"filter": "datum.t < 0"}],
          "mark": {"type": "point", "opacity": 0},
          "encoding": {
            "x": {"field": "t", "type": "quantitative",
              "axis": {"orient": "bottom", "title": null, "labelExpr": "''", "tickSize": -4,
                "values": [1.2, 3.6, 4.8, 6, 8.4, 9.6, 10.8, 13.2, 14.4, 15.6, 18, 19.2, 20.4, 22.8]}},
            "y": {"field": "s", "type": "quantitative",
              "axis": {"orient": "left", "title": null, "labelExpr": "''", "tickSize": -6.5,
                "values": [1, 2, 3, 4, 6, 7, 8, 9, 11, 12, 13, 14, 16, 17, 18, 19]}}
          }
        },
        {
          "transform": [{"filter": "datum.t < 0"}],
          "mark": {"type": "point", "opacity": 0},
          "encoding": {
            "x": {"field": "t", "type": "quantitative",
              "axis": {"orient": "top", "title": null, "labelExpr": "''", "tickSize": -4,
                "values": [1.2, 3.6, 4.8, 6, 8.4, 9.6, 10.8, 13.2, 14.4, 15.6, 18, 19.2, 20.4, 22.8]}},
            "y": {"field": "s", "type": "quantitative",
              "axis": {"orient": "right", "title": null, "labelExpr": "''", "tickSize": -6.5,
                "values": [1, 2, 3, 4, 6, 7, 8, 9, 11, 12, 13, 14, 16, 17, 18, 19]}}
          }
        }
      ],
      "resolve": {"axis": {"x": "independent", "y": "independent"}}
    }
  ]
}
